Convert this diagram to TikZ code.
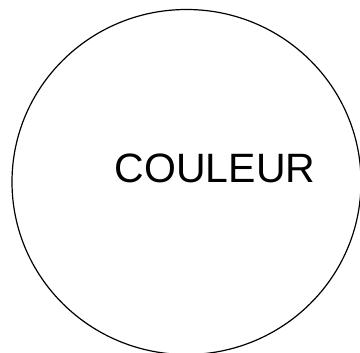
\documentclass[tikz,border=0pt]{standalone}
\usepackage{fontspec}
\setmainfont{Liberation Sans}
\usetikzlibrary{shapes.geometric}
\begin{document}
\begin{tikzpicture}[x=1pt,y=1pt,
  blob/.style={draw=black,line width=1.2pt,ellipse,minimum width=349pt,minimum height=345pt,inner sep=0pt},
  lbl/.style={font=\fontsize{41}{41}\selectfont,inner sep=0pt,anchor=base}]
\useasboundingbox (0,0) rectangle (360,353);
\node[blob] (c) at (186.5,171) {};
\node[lbl] (t) at (215,170) {COULEUR};
\end{tikzpicture}
\end{document}
